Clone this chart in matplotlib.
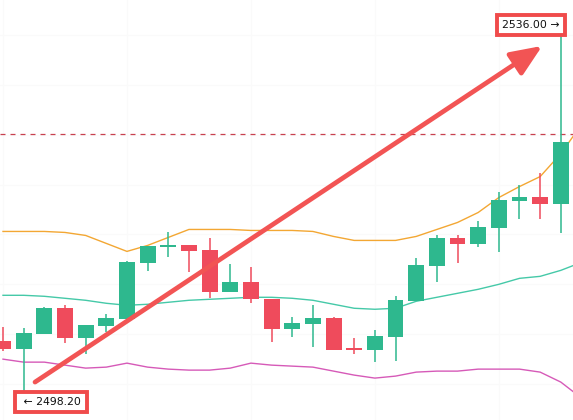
import matplotlib
matplotlib.use("Agg")
import matplotlib.pyplot as plt
import numpy as np

# candle data
opens  = [2504.3, 2503.5, 2505.0, 2507.6, 2504.6, 2505.8, 2506.5, 2512.1, 2513.7, 2513.9,
          2513.4, 2509.2, 2510.2, 2508.5, 2505.5, 2506.0, 2506.6, 2503.6, 2503.4, 2504.7,
          2508.3, 2511.8, 2514.6, 2514.0, 2515.6, 2518.4, 2518.8, 2518.1]
highs  = [2505.7, 2505.6, 2507.7, 2507.9, 2505.9, 2507.0, 2512.3, 2513.8, 2515.2, 2513.9,
          2514.6, 2512.0, 2511.7, 2508.5, 2506.7, 2507.9, 2506.7, 2504.6, 2505.4, 2508.8,
          2512.6, 2514.9, 2514.9, 2516.3, 2519.3, 2520.0, 2521.2, 2536.0]
lows   = [2503.3, 2498.2, 2505.0, 2504.1, 2503.0, 2505.2, 2506.3, 2511.3, 2512.7, 2511.2,
          2508.6, 2509.2, 2508.1, 2504.2, 2504.7, 2503.7, 2503.4, 2503.0, 2502.2, 2502.3,
          2508.3, 2510.2, 2512.1, 2513.7, 2513.2, 2516.5, 2516.5, 2515.1]
closes = [2503.5, 2505.1, 2507.6, 2504.6, 2505.9, 2506.6, 2512.2, 2513.8, 2513.9, 2513.3,
          2509.2, 2510.2, 2508.5, 2505.5, 2506.1, 2506.6, 2503.4, 2503.4, 2504.8, 2508.4,
          2511.9, 2514.6, 2514.0, 2515.7, 2518.5, 2518.8, 2518.1, 2524.3]

# bollinger bands (one extra point past the right edge)
bb_upper = [2515.3, 2515.3, 2515.3, 2515.2, 2514.9, 2514.1, 2513.3, 2513.9, 2514.7, 2515.5,
            2515.5, 2515.5, 2515.4, 2515.4, 2515.4, 2515.3, 2514.8, 2514.4, 2514.4, 2514.4,
            2514.8, 2515.5, 2516.2, 2517.2, 2518.7, 2519.8, 2520.8, 2523.1, 2526.0]
bb_mid   = [2508.9, 2508.9, 2508.8, 2508.6, 2508.4, 2508.1, 2507.9, 2508.0, 2508.2, 2508.4,
            2508.5, 2508.6, 2508.7, 2508.7, 2508.6, 2508.4, 2508.0, 2507.6, 2507.5, 2507.6,
            2508.3, 2508.7, 2509.1, 2509.5, 2510.0, 2510.6, 2510.8, 2511.4, 2512.2]
bb_lower = [2502.5, 2502.2, 2502.2, 2501.9, 2501.6, 2501.7, 2502.1, 2501.7, 2501.5, 2501.4,
            2501.4, 2501.6, 2502.1, 2501.9, 2501.8, 2501.7, 2501.3, 2500.9, 2500.6, 2500.8,
            2501.2, 2501.3, 2501.3, 2501.5, 2501.5, 2501.5, 2501.2, 2500.2, 2498.6]

ref_level = 2525.1
high_label = "2536.00 →"
low_label = "← 2498.20"

UP = "#2eb88e"
DOWN = "#ef4b5c"

fig = plt.figure(figsize=(5.73, 4.20), dpi=100)
ax = fig.add_axes([0, 0, 1, 1])
ax.set_xlim(-0.145, 27.59)
ax.set_ylim(2496.4, 2538.5)
ax.axis("off")

# barely visible grid
for gx in [0, 6, 12, 18, 24]:
    ax.axvline(gx, color="#fafafa", lw=1, zorder=0)
for gy in np.arange(2500, 2540, 5):
    ax.axhline(gy, color="#fafafa", lw=1, zorder=0)

xb = np.arange(len(bb_upper))
ax.plot(xb, bb_upper, color="#f3a733", lw=1, zorder=1)
ax.plot(xb, bb_mid, color="#45c9a8", lw=1, zorder=1)
ax.plot(xb, bb_lower, color="#d65ab8", lw=1, zorder=1)

ax.axhline(ref_level, color="#c8404f", lw=0.9, ls=(0, (4, 4)), zorder=1)

for i in range(len(opens)):
    o, h, l, c = opens[i], highs[i], lows[i], closes[i]
    col = UP if c >= o else DOWN
    ax.vlines(i, l, h, color=col, lw=1.1, zorder=2)
    ax.bar(i, max(abs(c - o), 0.15), bottom=min(o, c), width=0.77,
           color=col, zorder=3)

# big arrow
ax.annotate("", xy=(26.1, 2533.9), xytext=(1.55, 2500.2),
            arrowprops=dict(arrowstyle="-|>,head_length=1.9,head_width=0.8",
                            mutation_scale=10, lw=3.4, color="#f25454",
                            shrinkA=0, shrinkB=0),
            zorder=4)

box = dict(boxstyle="square,pad=0.5", fc="white", ec="#f04b4b", lw=2.8)
last = len(opens) - 1
ax.annotate(high_label, xy=(last, highs[last]), xytext=(-21.5, 0),
            textcoords="offset points", ha="center", va="center",
            fontsize=7.8, color="#111111", bbox=box, zorder=5)
imin = int(np.argmin(lows))
box_low = dict(boxstyle="square,pad=0.5", fc="white", ec="#f04b4b", lw=2.8)
ax.annotate(" " + low_label, xy=(imin, lows[imin]), xytext=(19.5, 0),
            textcoords="offset points", ha="center", va="center",
            fontsize=7.8, color="#111111", bbox=box_low, zorder=5)

plt.savefig("out.png", dpi=100)
